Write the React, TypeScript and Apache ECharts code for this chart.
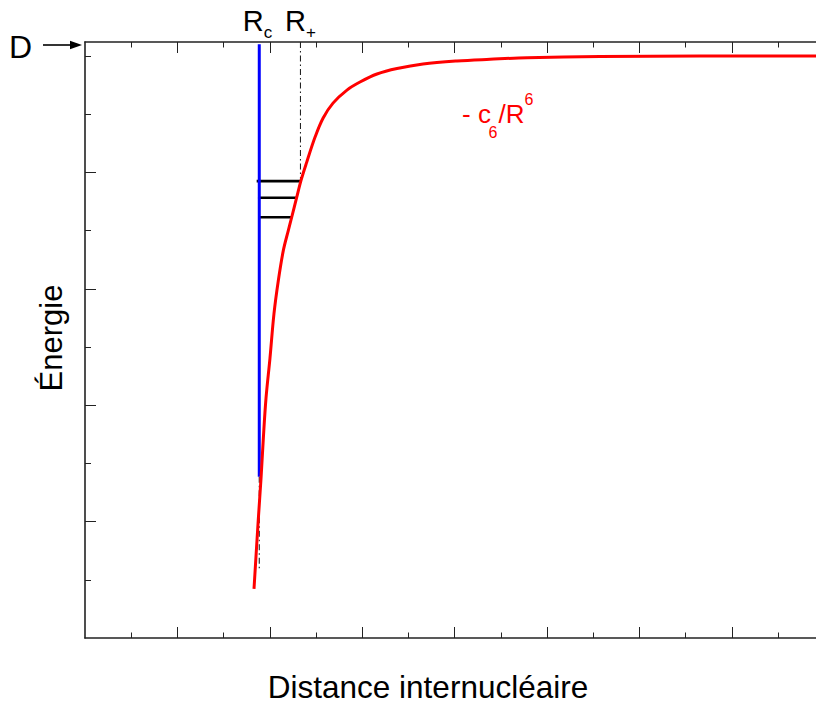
import React, { useEffect, useRef } from "react";
import * as echarts from "echarts";

// Potential curve (distance units, energy units; D = 0)
const curveR = [1.829, 1.876, 1.905, 1.93, 1.959, 2.002, 2.045, 2.092, 2.146, 2.2, 2.237, 2.291, 2.338, 2.399, 2.489, 2.576, 2.684, 2.835, 2.976, 3.16, 3.377, 3.658, 4.026, 4.383, 4.784, 5.574, 6.656, 8.0];
const curveE = [-9.155, -7.948, -7.259, -6.569, -5.879, -5.19, -4.431, -3.862, -3.345, -3.0, -2.771, -2.431, -2.138, -1.828, -1.397, -1.069, -0.81, -0.586, -0.448, -0.31, -0.216, -0.138, -0.086, -0.057, -0.03, -0.01, 0, 0];

// Hard core at Rc
const rc = 1.886;
const rcTop = 0.2;
const rcBottom = -7.23;
const rcDashBottom = -8.8;

// Outer turning point R+
const rPlus = 2.332;
const rPlusBottom = -2.12;

// Bound levels
const levelE = [-2.15, -2.436, -2.771];
const levelStart = [1.858, 1.872, 1.894];
const levelEnd = [2.33, 2.291, 2.237];

// Axis ticks
const xMajorTicks = [1, 2, 3, 4, 5, 6, 7];
const xMinorTicks = [0.5, 1.5, 2.5, 3.5, 4.5, 5.5, 6.5, 7.5];
const yMajorTicks = [-8, -6, -4, -2];
const yMinorTicks = [-9, -7, -5, -3, -1, 0];

const X_MIN = 0;
const X_MAX = 8;
const Y_MIN = -10;
const Y_MAX = 0.24;

const FONT = "'Liberation Sans', Arial, Helvetica, sans-serif";
const AXIS_COLOR = "#222";

function makeXAxis(position: "top" | "bottom", ticks: number[], len: number, showLine: boolean) {
  return {
    type: "value",
    position,
    min: X_MIN,
    max: X_MAX,
    axisLine: { show: showLine, onZero: false, lineStyle: { color: AXIS_COLOR, width: 1.6 } },
    axisTick: { show: true, inside: true, length: len, customValues: ticks, lineStyle: { color: AXIS_COLOR, width: 1 } },
    axisLabel: { show: false },
    splitLine: { show: false },
  };
}

function makeYAxis(ticks: number[], len: number, showLine: boolean) {
  return {
    type: "value",
    position: "left",
    min: Y_MIN,
    max: Y_MAX,
    axisLine: { show: showLine, onZero: false, lineStyle: { color: AXIS_COLOR, width: 1.6 } },
    axisTick: { show: true, inside: true, length: len, customValues: ticks, lineStyle: { color: AXIS_COLOR, width: 1 } },
    axisLabel: { show: false },
    splitLine: { show: false },
  };
}

export default function App() {
  const ref = useRef<HTMLDivElement>(null);

  useEffect(() => {
    if (!ref.current) return;
    const chart = echarts.init(ref.current, null, { renderer: "svg" });

    const curveData = curveR.map((r, i) => [r, curveE[i]]);
    const dashStyle = { color: "#222", width: 1.1, type: [6, 3, 1.5, 3] as any };

    const levelSeries = levelE.map((e, i) => ({
      type: "line",
      xAxisIndex: 0,
      yAxisIndex: 0,
      data: [
        [levelStart[i], e],
        [levelEnd[i], e],
      ],
      symbol: "none",
      lineStyle: { color: "#000", width: 2.6 },
      z: 3,
    }));

    const option: any = {
      animation: false,
      grid: { left: 85, top: 42, width: 739.2, height: 596 },
      xAxis: [
        makeXAxis("bottom", xMajorTicks, 11, true),
        makeXAxis("bottom", xMinorTicks, 5.5, false),
        makeXAxis("top", xMajorTicks, 11, true),
        makeXAxis("top", xMinorTicks, 5.5, false),
      ],
      yAxis: [makeYAxis(yMajorTicks, 11, true), makeYAxis(yMinorTicks, 6, false)],
      series: [
        {
          type: "line",
          xAxisIndex: 0,
          yAxisIndex: 0,
          data: [
            [rc, rcBottom],
            [rc, rcDashBottom],
          ],
          symbol: "none",
          lineStyle: dashStyle,
          z: 1,
        },
        {
          type: "line",
          xAxisIndex: 0,
          yAxisIndex: 0,
          data: [
            [rPlus, Y_MAX],
            [rPlus, rPlusBottom],
          ],
          symbol: "none",
          lineStyle: dashStyle,
          z: 1,
        },
        ...levelSeries,
        {
          type: "line",
          xAxisIndex: 0,
          yAxisIndex: 0,
          data: [
            [rc, rcTop],
            [rc, rcBottom],
          ],
          symbol: "none",
          lineStyle: { color: "#0000ff", width: 3 },
          z: 4,
        },
        {
          type: "line",
          xAxisIndex: 0,
          yAxisIndex: 0,
          data: curveData,
          smooth: 0.35,
          symbol: "none",
          lineStyle: { color: "#ff0000", width: 3 },
          z: 5,
        },
      ],
      graphic: [
        { type: "text", x: 9, y: 46.7, style: { text: "D", font: `32px ${FONT}`, fill: "#000", verticalAlign: "middle" } },
        { type: "line", shape: { x1: 43, y1: 45, x2: 74, y2: 45 }, style: { stroke: "#000", lineWidth: 1.6 } },
        { type: "polygon", shape: { points: [[82, 45], [70, 40.8], [70, 49.2]] }, style: { fill: "#000" } },
        { type: "text", x: 242.7, y: 21, style: { text: "R", font: `29px ${FONT}`, fill: "#000", verticalAlign: "middle" } },
        { type: "text", x: 263.7, y: 32, style: { text: "c", font: `17px ${FONT}`, fill: "#000", verticalAlign: "middle" } },
        { type: "text", x: 285, y: 21, style: { text: "R", font: `29px ${FONT}`, fill: "#000", verticalAlign: "middle" } },
        { type: "text", x: 306, y: 32, style: { text: "+", font: `17px ${FONT}`, fill: "#000", verticalAlign: "middle" } },
        { type: "text", x: 462, y: 113.5, style: { text: "- c", font: `26px ${FONT}`, fill: "#ff0000", verticalAlign: "middle" } },
        { type: "text", x: 488.5, y: 132.5, style: { text: "6", font: `16px ${FONT}`, fill: "#ff0000", verticalAlign: "middle" } },
        { type: "text", x: 498.5, y: 113.5, style: { text: "/R", font: `26px ${FONT}`, fill: "#ff0000", verticalAlign: "middle" } },
        { type: "text", x: 524.6, y: 99, style: { text: "6", font: `16px ${FONT}`, fill: "#ff0000", verticalAlign: "middle" } },
        {
          type: "text",
          x: 51,
          y: 338,
          rotation: Math.PI / 2,
          style: { text: "Énergie", font: `31px ${FONT}`, fill: "#000", align: "center", verticalAlign: "middle" },
        },
        {
          type: "text",
          x: 428,
          y: 687,
          style: { text: "Distance internucléaire", font: `31.5px ${FONT}`, fill: "#000", align: "center", verticalAlign: "middle" },
        },
      ],
    };

    chart.setOption(option);
    return () => chart.dispose();
  }, []);

  return (
    <div style={{ position: "fixed", left: 0, top: 0, width: 816, height: 708, overflow: "hidden", background: "#fff" }}>
      <div ref={ref} style={{ width: 900, height: 708 }} />
    </div>
  );
}
